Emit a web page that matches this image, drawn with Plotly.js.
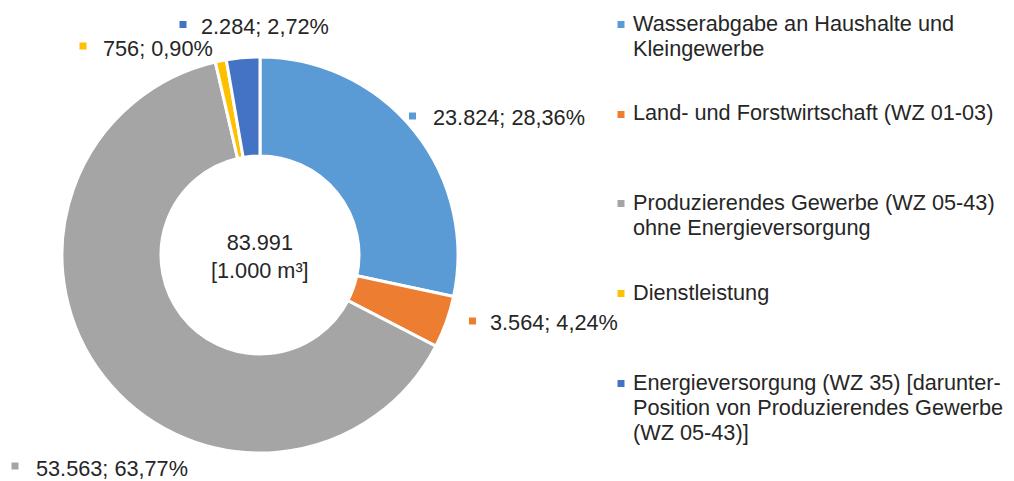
<!DOCTYPE html>
<html>
<head>
<meta charset="utf-8">
<script src="https://cdn.plot.ly/plotly-3.0.1.min.js"></script>
<style>html,body{margin:0;padding:0;background:#fff;}#chart{width:1014px;height:481px;}</style>
</head>
<body>
<div id="chart"></div>
<script>
// ---- data ----
const categories = [
  "Wasserabgabe an Haushalte und<br>Kleingewerbe",
  "Land- und Forstwirtschaft (WZ 01-03)",
  "Produzierendes Gewerbe (WZ 05-43)<br>ohne Energieversorgung",
  "Dienstleistung",
  "Energieversorgung (WZ 35) [darunter-<br>Position von Produzierendes Gewerbe<br>(WZ 05-43)]"
];
const values = [23824, 3564, 53563, 756, 2284];
const colors = ["#5B9BD5", "#ED7D31", "#A5A5A5", "#FFC000", "#4472C4"];
const unitLabel = "[1.000 m³]";

// ---- helpers ----
const W = 1014, H = 481;
const px = x => x / W;
const py = y => 1 - y / H;
const fmtInt = v => String(v).replace(/\B(?=(\d{3})+(?!\d))/g, ".");
const total = values.reduce((a, b) => a + b, 0);
const pctStr = v => (v / total * 100).toFixed(2).replace(".", ",") + "%";

const FONT = {family: "Liberation Sans, Arial, sans-serif", size: 21.7, color: "#262626"};

// label placement (square centre, text left, text centre y) per slice
const labelPos = [
  {sx: 412.5, sy: 116, tx: 431, ty: 117.5},
  {sx: 472.5, sy: 321, tx: 488, ty: 322},
  {sx: 15, sy: 466, tx: 34, ty: 468},
  {sx: 83, sy: 46, tx: 101, ty: 48},
  {sx: 183, sy: 24.5, tx: 199, ty: 26}
];
// legend first-line centre y per entry
const legendY = [23, 113, 202, 292, 382];
const legendLineGap = 25;

const annotations = [];
const shapes = [];
const sq = 7;

values.forEach((v, i) => {
  const p = labelPos[i];
  shapes.push({type: "rect", xref: "paper", yref: "paper",
    x0: px(p.sx - sq / 2), x1: px(p.sx + sq / 2), y0: py(p.sy + sq / 2), y1: py(p.sy - sq / 2),
    fillcolor: colors[i], line: {width: 0}});
  annotations.push({xref: "paper", yref: "paper", x: px(p.tx), y: py(p.ty),
    xanchor: "left", yanchor: "middle", showarrow: false,
    text: fmtInt(v) + "; " + pctStr(v), font: FONT});
});

categories.forEach((c, i) => {
  const y0 = legendY[i];
  shapes.push({type: "rect", xref: "paper", yref: "paper",
    x0: px(621 - sq / 2), x1: px(621 + sq / 2), y0: py(y0 + 1.5 + sq / 2), y1: py(y0 + 1.5 - sq / 2),
    fillcolor: colors[i], line: {width: 0}});
  c.split("<br>").forEach((line, k) => {
    annotations.push({xref: "paper", yref: "paper", x: px(631), y: py(y0 + k * legendLineGap),
      xanchor: "left", yanchor: "middle", showarrow: false, text: line, font: FONT});
  });
});

annotations.push({xref: "paper", yref: "paper", x: px(260), y: py(256),
  xanchor: "center", yanchor: "middle", showarrow: false,
  text: fmtInt(total) + "<br>" + unitLabel, font: FONT});

const trace = {
  type: "pie",
  values: values,
  labels: categories,
  marker: {colors: colors, line: {color: "#ffffff", width: 3}},
  hole: 0.5,
  sort: false,
  direction: "clockwise",
  rotation: 0,
  textinfo: "none",
  hoverinfo: "label+value+percent",
  domain: {x: [px(62), px(458)], y: [py(453), py(57)]},
  showlegend: false
};

const layout = {
  width: W, height: H,
  margin: {l: 0, r: 0, t: 0, b: 0},
  paper_bgcolor: "#ffffff",
  showlegend: false,
  annotations: annotations,
  shapes: shapes
};

Plotly.newPlot("chart", [trace], layout, {displayModeBar: false, staticPlot: true});
</script>
</body>
</html>
